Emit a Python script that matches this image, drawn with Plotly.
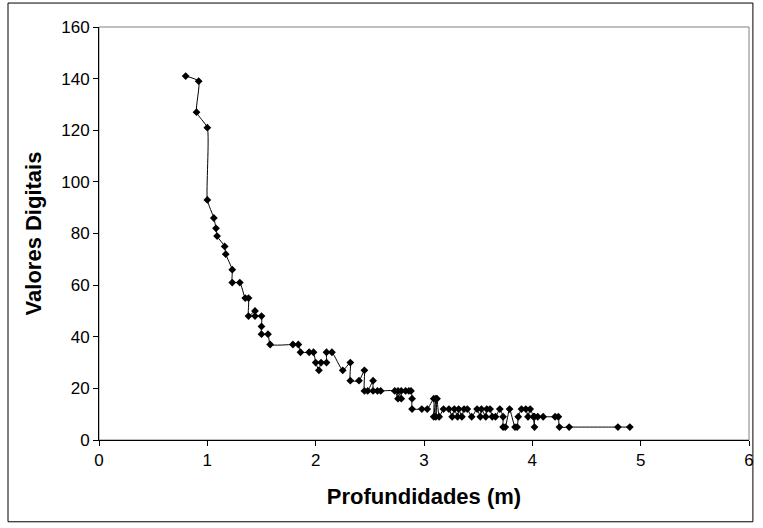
import plotly.graph_objects as go

# profundidade (m) e valor digital
profundidade = [
    0.80, 0.92, 0.90, 1.00, 1.00, 1.06, 1.08, 1.09, 1.16, 1.17,
    1.23, 1.23, 1.30, 1.35, 1.38, 1.38, 1.44, 1.44, 1.50, 1.50,
    1.50, 1.56, 1.58, 1.79, 1.84, 1.86, 1.94, 1.98, 2.00, 2.03,
    2.05, 2.10, 2.10, 2.15, 2.25, 2.32, 2.32, 2.40, 2.45, 2.45,
    2.48, 2.53, 2.53, 2.57, 2.60, 2.73, 2.76, 2.76, 2.79, 2.79,
    2.83, 2.86, 2.88, 2.89, 2.89, 2.98, 3.03, 3.09, 3.09, 3.11,
    3.11, 3.12, 3.14, 3.18, 3.23, 3.26, 3.28, 3.31, 3.32, 3.35,
    3.37, 3.40, 3.44, 3.49, 3.52, 3.53, 3.57, 3.58, 3.61, 3.63,
    3.66, 3.70, 3.73, 3.73, 3.75, 3.79, 3.84, 3.86, 3.87, 3.90,
    3.94, 3.96, 3.98, 4.01, 4.02, 4.02, 4.05, 4.10, 4.21, 4.24,
    4.25, 4.34, 4.79, 4.90,
]
valores = [
    141, 139, 127, 121, 93, 86, 82, 79, 75, 72,
    66, 61, 61, 55, 55, 48, 50, 48, 48, 44,
    41, 41, 37, 37, 37, 34, 34, 34, 30, 27,
    30, 30, 34, 34, 27, 30, 23, 23, 27, 19,
    19, 23, 19, 19, 19, 19, 16, 19, 16, 19,
    19, 19, 19, 16, 12, 12, 12, 16, 9, 16,
    9, 16, 9, 12, 12, 9, 12, 9, 12, 9,
    12, 12, 9, 12, 9, 12, 9, 12, 12, 9,
    9, 12, 9, 5, 5, 12, 5, 5, 9, 12,
    12, 9, 12, 9, 5, 9, 9, 9, 9, 9,
    5, 5, 5, 5,
]

x_ticks = [0, 1, 2, 3, 4, 5, 6]
y_ticks = [0, 20, 40, 60, 80, 100, 120, 140, 160]

fig = go.Figure()
fig.add_trace(go.Scatter(
    x=profundidade, y=valores, mode="lines+markers",
    line=dict(color="#000000", width=1, shape="spline", smoothing=0.5),
    marker=dict(symbol="diamond", size=6, color="#000000"),
    showlegend=False,
))

# moldura da área do gráfico (cinza)
fig.add_shape(type="rect", xref="paper", yref="paper", x0=0, x1=1, y0=0, y1=1,
              line=dict(color="#808080", width=1), layer="below")
# moldura do gráfico inteiro (preta)
fig.add_shape(type="rect", xref="paper", yref="paper", x0=-0.14, x1=1.006,
              y0=-0.198, y1=1.058, line=dict(color="#000000", width=1),
              layer="above")

axis_font = dict(family="Liberation Sans, Arial", size=17, color="#000000")
title_font = dict(family="Liberation Sans, Arial", size=22, color="#000000")

fig.update_xaxes(
    range=[0, 6], tickvals=x_ticks, showgrid=False, zeroline=False,
    showline=True, linecolor="#000000", linewidth=1,
    ticks="outside", ticklen=5, tickcolor="#000000", tickfont=axis_font,
    title=dict(text="<b>Profundidades (m)</b>", font=title_font, standoff=19),
)
fig.update_yaxes(
    range=[0, 160], tickvals=y_ticks, showgrid=False, zeroline=False,
    showline=True, linecolor="#000000", linewidth=1,
    ticks="outside", ticklen=5, tickcolor="#000000", tickfont=axis_font,
    title=dict(text="<b>Valores Digitais</b>", font=title_font, standoff=13),
)
fig.update_layout(
    width=763, height=528,
    margin=dict(l=99, r=9, t=27, b=88),
    plot_bgcolor="white", paper_bgcolor="white",
)

fig.write_html("out.html", config={"displayModeBar": False},
               post_script="document.body.style.margin='0px';")
